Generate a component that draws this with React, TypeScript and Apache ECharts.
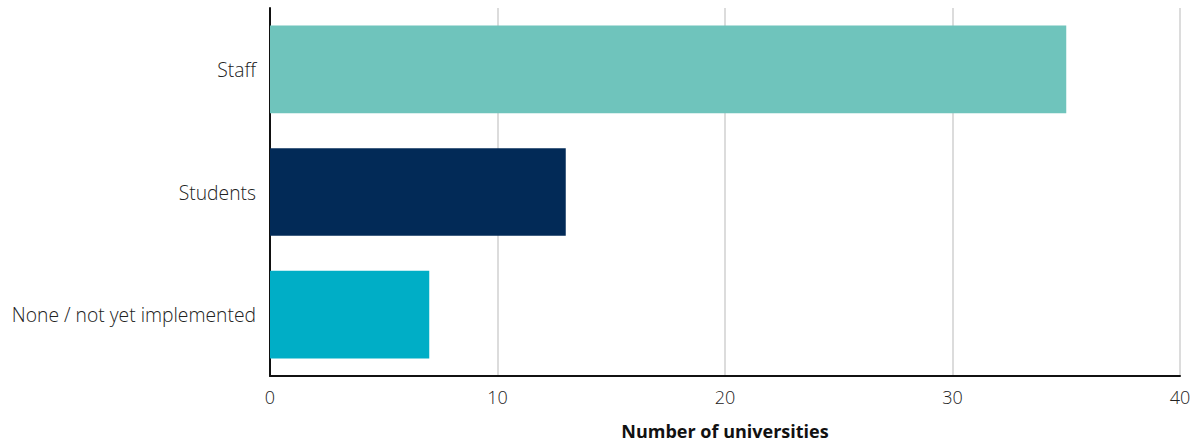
import React, { useEffect, useRef } from "react";
import * as echarts from "echarts";

const categories = ["Staff", "Students", "None / not yet implemented"];
const values = [35, 13, 7];
const colors = ["#6fc4bc", "#022a57", "#00aec6"];
const xTicks = { min: 0, max: 40, interval: 10 };
const xAxisName = "Number of universities";

export default function App() {
  const ref = useRef<HTMLDivElement>(null);
  useEffect(() => {
    if (!ref.current) return;
    const chart = echarts.init(ref.current, null, { renderer: "svg" });
    const font = "'Open Sans', 'Noto Sans', sans-serif";
    chart.setOption({
      animation: false,
      grid: { left: 270, right: 17, top: 8, bottom: 66, containLabel: false },
      xAxis: {
        type: "value",
        min: xTicks.min,
        max: xTicks.max,
        interval: xTicks.interval,
        name: xAxisName,
        nameLocation: "middle",
        nameGap: 46,
        nameTextStyle: { fontFamily: font, fontSize: 18, fontWeight: "bold", color: "#111" },
        axisLine: { show: true, lineStyle: { color: "#111", width: 2 } },
        axisTick: { show: false },
        axisLabel: { fontFamily: font, fontSize: 18, fontWeight: 300, color: "#222", margin: 12 },
        splitLine: { show: true, lineStyle: { color: "#d0d0d0", width: 1.5 } },
      },
      yAxis: {
        type: "category",
        data: categories,
        inverse: true,
        axisLine: { show: true, lineStyle: { color: "#111", width: 2 } },
        axisTick: { show: false },
        axisLabel: { fontFamily: font, fontSize: 19.3, fontWeight: 300, color: "#222", margin: 14 },
        splitLine: { show: false },
      },
      series: [
        {
          type: "bar",
          barWidth: "71.5%",
          data: values.map((v, i) => ({ value: v, itemStyle: { color: colors[i] } })),
        },
      ],
    });
    return () => chart.dispose();
  }, []);
  return (
    <div
      ref={ref}
      style={{ position: "fixed", left: 0, top: 0, width: 1197, height: 445, background: "#fff" }}
    />
  );
}
